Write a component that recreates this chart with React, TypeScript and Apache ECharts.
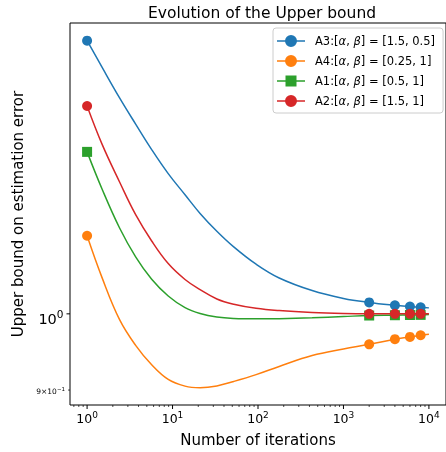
import React, { useEffect, useRef } from "react";
import * as echarts from "echarts";

// ---- data ----
const iterations = [1, 1.5, 2.4, 3.7, 5.7, 8.9, 14, 21, 33, 52, 95, 177, 430, 1000, 2000, 4000, 6000, 8000, 10000];
const markerIterations = [1, 2000, 4000, 6000, 8000];

const seriesNames = [
  "A3:[α, β] = [1.5, 0.5]",
  "A4:[α, β] = [0.25, 1]",
  "A1:[α, β] = [0.5, 1]",
  "A2:[α, β] = [1.5, 1]",
];
const a3Values = [1.459, 1.406, 1.348, 1.3, 1.255, 1.214, 1.179, 1.149, 1.121, 1.097, 1.071, 1.0508, 1.0327, 1.0216, 1.0159, 1.0119, 1.0101, 1.009, 1.0083];
const a4Values = [1.114, 1.051, 0.992, 0.9574, 0.932, 0.9133, 0.9049, 0.903, 0.9052, 0.9108, 0.9194, 0.9299, 0.944, 0.9526, 0.9587, 0.9656, 0.9686, 0.9709, 0.9722];
const a1Values = [1.251, 1.188, 1.126, 1.082, 1.049, 1.025, 1.0086, 1.0004, 0.9955, 0.9936, 0.9931, 0.9934, 0.9946, 0.9963, 0.9977, 0.9981, 0.9984, 0.9986, 0.999];
const a2Values = [1.333, 1.264, 1.2, 1.147, 1.106, 1.072, 1.0487, 1.034, 1.0208, 1.0134, 1.0077, 1.0045, 1.0018, 1.0004, 1.0, 1.0, 1.0, 1.0, 1.0];
const allValues = [a3Values, a4Values, a1Values, a2Values];
const seriesColors = ["#1f77b4", "#ff7f0e", "#2ca02c", "#d62728"];
const seriesMarkers = ["circle", "circle", "rect", "circle"];

// ticks
const xMajorTicks = [1, 10, 100, 1000, 10000];
const xTickExponents = ["0", "1", "2", "3", "4"];
const yTicks = [1, 0.9];
const yTickMantissa = ["", "9×"];
const yTickExponents = ["0", "−1"];

const titleText = "Evolution of the Upper bound";
const xAxisName = "Number of iterations";
const yAxisName = "Upper bound on estimation error";

// axis limits
const X_MIN = Math.pow(10, -0.2);
const X_MAX = Math.pow(10, 4.2);
const Y_MIN = 0.8816;
const Y_MAX = 1.495;

const FONT = "DejaVu Sans";

const xMinorTicks: number[] = [];
[0.1, 1, 10, 100, 1000, 10000].forEach((d) => {
  for (let m = 2; m <= 9; m++) {
    const v = d * m;
    if (v > X_MIN && v < X_MAX) xMinorTicks.push(v);
  }
});

const circleIcon =
  "path://M0 5.25 H28 V6.75 H0 Z M8 6 A6 6 0 1 1 20 6 A6 6 0 1 1 8 6 Z";
const squareIcon = "path://M0 5.25 H28 V6.75 H0 Z M8.5 0.5 H19.5 V11.5 H8.5 Z";

export default function App() {
  const ref = useRef<HTMLDivElement>(null);
  useEffect(() => {
    if (!ref.current) return;
    const chart = echarts.init(ref.current, undefined, { renderer: "svg" });
    const markerSet = new Set(markerIterations);

    const lineSeries = seriesNames.map((name, si) => ({
      type: "line",
      name,
      data: iterations.map((x, i) => ({
        value: [x, allValues[si][i]],
        symbol: markerSet.has(x) ? seriesMarkers[si] : "none",
      })),
      symbolSize: 10,
      smooth: 0.4,
      lineStyle: { color: seriesColors[si], width: 1.5 },
      itemStyle: { color: seriesColors[si], borderWidth: 0 },
      emphasis: { disabled: true },
      z: 3 + si,
    }));

    const option: any = {
      animation: false,
      grid: {
        left: 70,
        top: 23,
        width: 383,
        height: 388,
        show: true,
        borderColor: "#000",
        borderWidth: 1,
        backgroundColor: "transparent",
      },
      title: { show: false },
      graphic: [
        {
          type: "text",
          x: 262,
          y: 13,
          style: {
            text: titleText,
            align: "center",
            verticalAlign: "middle",
            fontSize: 15.5,
            fontFamily: FONT,
            fill: "#000",
          },
        },
      ],
      legend: {
        orient: "vertical",
        left: 273,
        top: 28,
        padding: [7, 8, 6, 4],
        itemWidth: 28,
        itemHeight: 12,
        itemGap: 8,
        backgroundColor: "rgba(255,255,255,0.8)",
        borderColor: "#cccccc",
        borderWidth: 1,
        borderRadius: 3,
        selectedMode: false,
        data: seriesNames.map((n, i) => ({
          name: n,
          icon: seriesMarkers[i] === "rect" ? squareIcon : circleIcon,
        })),
        formatter: (n: string) => n.replace("α", "{i|α}").replace("β", "{i|β}"),
        textStyle: {
          fontSize: 11.5,
          fontFamily: FONT,
          color: "#000",
          padding: [0, 0, 0, 5],
          rich: {
            i: { fontSize: 11.5, fontFamily: FONT, fontStyle: "italic", color: "#000" },
          },
        },
      },
      xAxis: {
        type: "log",
        logBase: 10,
        min: X_MIN,
        max: X_MAX,
        axisLine: { show: false },
        axisTick: { show: false },
        axisLabel: { show: false },
        splitLine: { show: false },
        name: xAxisName,
        nameLocation: "middle",
        nameGap: 27,
        nameTextStyle: { fontSize: 15, fontFamily: FONT, color: "#000" },
      },
      yAxis: {
        type: "log",
        logBase: 10,
        min: Y_MIN,
        max: Y_MAX,
        axisLine: { show: false },
        axisTick: { show: false },
        axisLabel: { show: false },
        splitLine: { show: false },
        name: yAxisName,
        nameLocation: "middle",
        nameGap: 45,
        nameTextStyle: { fontSize: 15, fontFamily: FONT, color: "#000" },
      },
      series: [
        ...lineSeries,
        {
          type: "custom",
          name: "xMajor",
          silent: true,
          clip: false,
          data: xMajorTicks.map((v) => [v, Y_MIN]),
          encode: { x: 0, y: 1 },
          renderItem: (params: any, api: any) => {
            const p = api.coord([api.value(0), Y_MIN]);
            return {
              type: "group",
              children: [
                {
                  type: "line",
                  shape: { x1: p[0], y1: p[1], x2: p[0], y2: p[1] + 4 },
                  style: { stroke: "#000", lineWidth: 1 },
                },
                {
                  type: "text",
                  x: p[0],
                  y: p[1] + 5,
                  style: {
                    text: `10{s|${xTickExponents[params.dataIndex]}}`,
                    align: "center",
                    verticalAlign: "top",
                    fontSize: 12.5,
                    fontFamily: FONT,
                    fill: "#000",
                    rich: { s: { fontSize: 9, fontFamily: FONT, fill: "#000", padding: [0, 0, 8, 0] } },
                  },
                },
              ],
            };
          },
        },
        {
          type: "custom",
          name: "xMinor",
          silent: true,
          clip: false,
          data: xMinorTicks.map((v) => [v, Y_MIN]),
          encode: { x: 0, y: 1 },
          renderItem: (params: any, api: any) => {
            const p = api.coord([api.value(0), Y_MIN]);
            return {
              type: "line",
              shape: { x1: p[0], y1: p[1], x2: p[0], y2: p[1] + 2 },
              style: { stroke: "#000", lineWidth: 0.7 },
            };
          },
        },
        {
          type: "custom",
          name: "yTicks",
          silent: true,
          clip: false,
          data: yTicks.map((v) => [X_MIN, v]),
          encode: { x: 0, y: 1 },
          renderItem: (params: any, api: any) => {
            const i = params.dataIndex;
            const p = api.coord([X_MIN, api.value(1)]);
            const major = i === 0;
            const len = major ? 3.5 : 2;
            return {
              type: "group",
              children: [
                {
                  type: "line",
                  shape: { x1: p[0] - len, y1: p[1], x2: p[0], y2: p[1] },
                  style: { stroke: "#000", lineWidth: major ? 1 : 0.7 },
                },
                {
                  type: "text",
                  x: p[0] - len - 3,
                  y: p[1] + (major ? 5 : 1.5),
                  style: {
                    text: `${yTickMantissa[i]}10{s|${yTickExponents[i]}}`,
                    align: "right",
                    verticalAlign: "middle",
                    fontSize: major ? 14.5 : 7.5,
                    fontFamily: FONT,
                    fill: "#000",
                    rich: {
                      s: {
                        fontSize: major ? 10.5 : 5.5,
                        fontFamily: FONT,
                        fill: "#000",
                        padding: [0, 0, major ? 9 : 5, 0],
                      },
                    },
                  },
                },
              ],
            };
          },
        },
      ],
    };
    chart.setOption(option);
    return () => chart.dispose();
  }, []);
  return (
    <div
      ref={ref}
      style={{ position: "fixed", left: 0, top: 0, width: 446, height: 452 }}
    />
  );
}
